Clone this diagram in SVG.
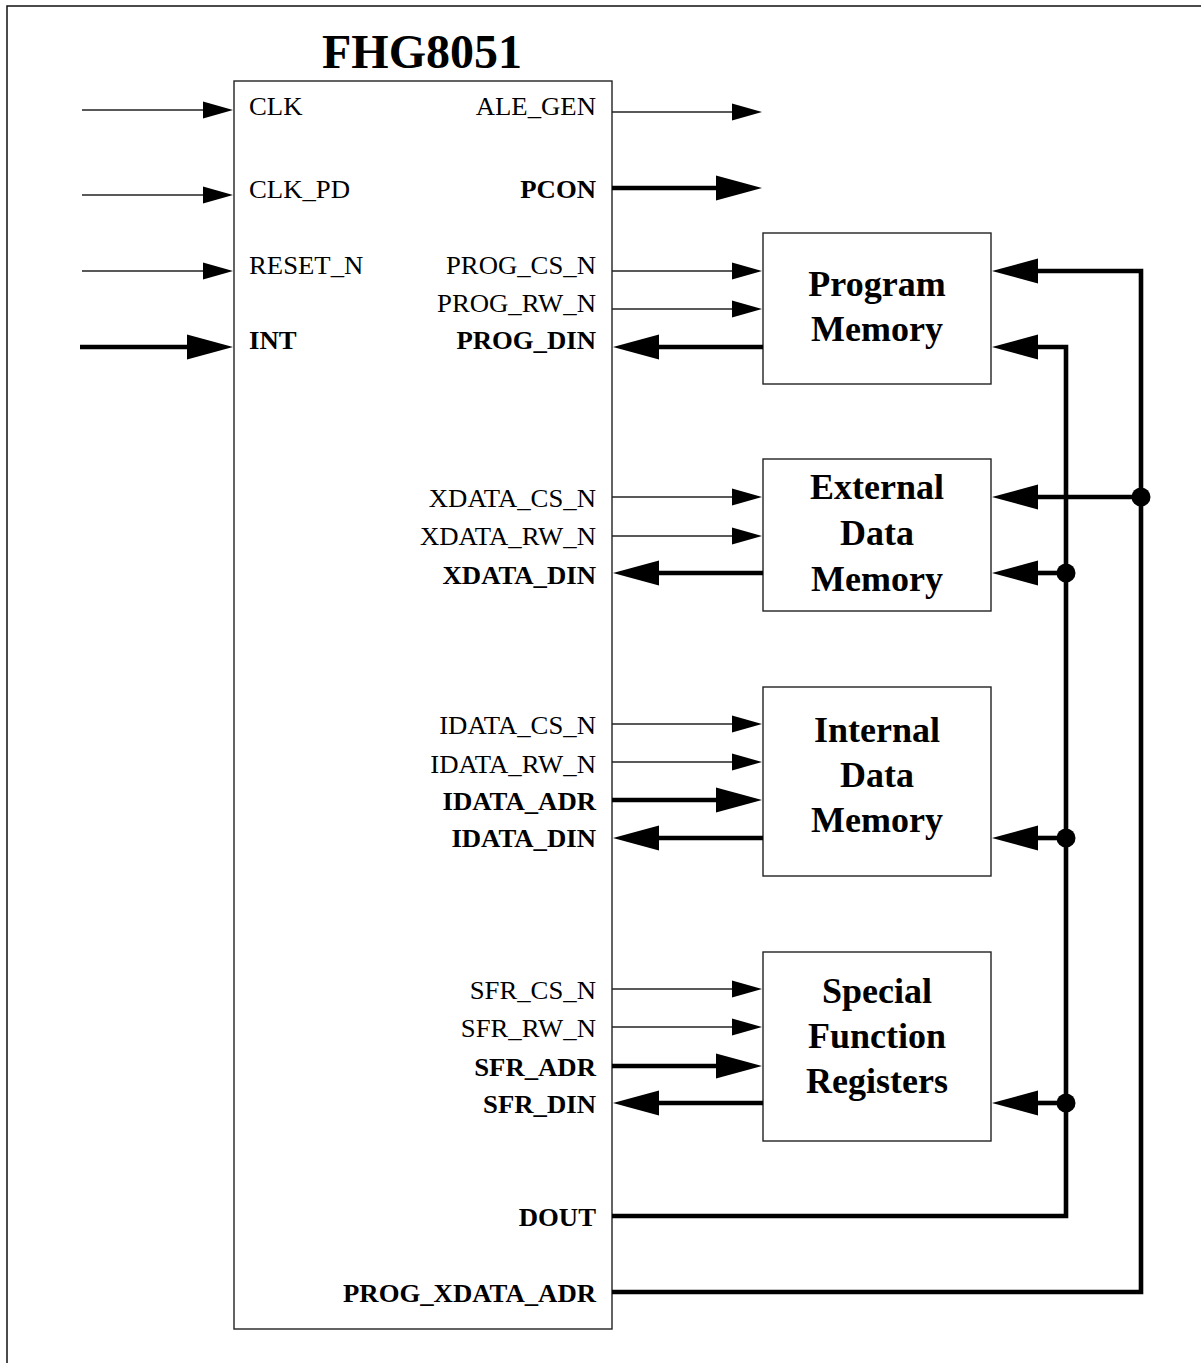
<svg xmlns="http://www.w3.org/2000/svg" width="1201" height="1363" viewBox="0 0 1201 1363">
<style>
.frame{fill:none;stroke:#111;stroke-width:1.5}
.box{fill:#fff;stroke:#222;stroke-width:1.4}
.thin{fill:none;stroke:#222;stroke-width:1.3}
.thick{fill:none;stroke:#000;stroke-width:4.6;stroke-linejoin:miter}
.lbl{font-family:"Liberation Serif","Times New Roman",serif;font-size:25px;fill:#000}
.b{font-weight:bold}
.r{text-anchor:end}
.title{font-family:"Liberation Serif","Times New Roman",serif;font-size:48px;font-weight:bold;text-anchor:middle;fill:#000}
.mem{font-family:"Liberation Serif","Times New Roman",serif;font-size:36px;font-weight:bold;text-anchor:middle;fill:#000}
.dot{fill:#000}
</style>
<defs>
<marker id="at" markerUnits="userSpaceOnUse" markerWidth="32" markerHeight="18" viewBox="0 -9 32 18" refX="1" refY="0" orient="auto"><path d="M0,-8.5 L30,0 L0,8.5 Z" fill="#000"/></marker>
<marker id="ak" markerUnits="userSpaceOnUse" markerWidth="48" markerHeight="27" viewBox="0 -13.5 48 27" refX="1" refY="0" orient="auto"><path d="M0,-12.5 L46,0 L0,12.5 Z" fill="#000"/></marker>
</defs>
<path class="frame" d="M7,1363 V6 H1201"/>
<text class="title" x="422" y="68">FHG8051</text>
<g id="fhg8051">
<rect class="box" x="234" y="81" width="378" height="1248"/>
<g transform="translate(249,0) scale(1.07,1)">
<text class="lbl" x="0" y="115">CLK</text>
<text class="lbl" x="0" y="198">CLK_PD</text>
<text class="lbl" x="0" y="274">RESET_N</text>
<text class="lbl b" x="0" y="349">INT</text>
</g>
<g transform="translate(596,0) scale(1.07,1)">
<text class="lbl r" x="0" y="115">ALE_GEN</text>
<text class="lbl r b" x="0" y="198">PCON</text>
<text class="lbl r" x="0" y="274">PROG_CS_N</text>
<text class="lbl r" x="0" y="312">PROG_RW_N</text>
<text class="lbl r b" x="0" y="349">PROG_DIN</text>
<text class="lbl r" x="0" y="507">XDATA_CS_N</text>
<text class="lbl r" x="0" y="545">XDATA_RW_N</text>
<text class="lbl r b" x="0" y="584">XDATA_DIN</text>
<text class="lbl r" x="0" y="734">IDATA_CS_N</text>
<text class="lbl r" x="0" y="773">IDATA_RW_N</text>
<text class="lbl r b" x="0" y="810">IDATA_ADR</text>
<text class="lbl r b" x="0" y="847">IDATA_DIN</text>
<text class="lbl r" x="0" y="999">SFR_CS_N</text>
<text class="lbl r" x="0" y="1037">SFR_RW_N</text>
<text class="lbl r b" x="0" y="1076">SFR_ADR</text>
<text class="lbl r b" x="0" y="1113">SFR_DIN</text>
<text class="lbl r b" x="0" y="1226">DOUT</text>
<text class="lbl r b" x="0" y="1302">PROG_XDATA_ADR</text>
</g>
</g>
<g id="program-memory">
<rect class="box" x="763" y="233" width="228" height="151"/>
<text class="mem" x="877" y="296">Program</text>
<text class="mem" x="877" y="341">Memory</text>
</g>
<g id="external-data-memory">
<rect class="box" x="763" y="459" width="228" height="152"/>
<text class="mem" x="877" y="499">External</text>
<text class="mem" x="877" y="545">Data</text>
<text class="mem" x="877" y="591">Memory</text>
</g>
<g id="internal-data-memory">
<rect class="box" x="763" y="687" width="228" height="189"/>
<text class="mem" x="877" y="742">Internal</text>
<text class="mem" x="877" y="787">Data</text>
<text class="mem" x="877" y="832">Memory</text>
</g>
<g id="special-function-registers">
<rect class="box" x="763" y="952" width="228" height="189"/>
<text class="mem" x="877" y="1003">Special</text>
<text class="mem" x="877" y="1048">Function</text>
<text class="mem" x="877" y="1093">Registers</text>
</g>
<g id="connectors">
<path class="thin" d="M82,110 H204" marker-end="url(#at)"/>
<path class="thin" d="M82,195 H204" marker-end="url(#at)"/>
<path class="thin" d="M82,271 H204" marker-end="url(#at)"/>
<path class="thick" d="M80,347 H188" marker-end="url(#ak)"/>
<path class="thin" d="M612,112 H733" marker-end="url(#at)"/>
<path class="thick" d="M612,188 H717" marker-end="url(#ak)"/>
<path class="thin" d="M612,271 H733" marker-end="url(#at)"/>
<path class="thin" d="M612,309 H733" marker-end="url(#at)"/>
<path class="thick" d="M763,347 H658" marker-end="url(#ak)"/>
<path class="thin" d="M612,497 H733" marker-end="url(#at)"/>
<path class="thin" d="M612,536 H733" marker-end="url(#at)"/>
<path class="thick" d="M763,573 H658" marker-end="url(#ak)"/>
<path class="thin" d="M612,724 H733" marker-end="url(#at)"/>
<path class="thin" d="M612,762 H733" marker-end="url(#at)"/>
<path class="thick" d="M612,800 H717" marker-end="url(#ak)"/>
<path class="thick" d="M763,838 H658" marker-end="url(#ak)"/>
<path class="thin" d="M612,989 H733" marker-end="url(#at)"/>
<path class="thin" d="M612,1027 H733" marker-end="url(#at)"/>
<path class="thick" d="M612,1066 H717" marker-end="url(#ak)"/>
<path class="thick" d="M763,1103 H658" marker-end="url(#ak)"/>
<path class="thick" d="M612,1292 H1141 V271 H1037" marker-end="url(#ak)"/>
<path class="thick" d="M1141,497 H1037" marker-end="url(#ak)"/>
<path class="thick" d="M612,1216 H1066 V347 H1037" marker-end="url(#ak)"/>
<path class="thick" d="M1066,573 H1037" marker-end="url(#ak)"/>
<path class="thick" d="M1066,838 H1037" marker-end="url(#ak)"/>
<path class="thick" d="M1066,1103 H1037" marker-end="url(#ak)"/>
<circle class="dot" cx="1141" cy="497" r="9.5"/>
<circle class="dot" cx="1066" cy="573" r="9.5"/>
<circle class="dot" cx="1066" cy="838" r="9.5"/>
<circle class="dot" cx="1066" cy="1103" r="9.5"/>
</g>
</svg>
